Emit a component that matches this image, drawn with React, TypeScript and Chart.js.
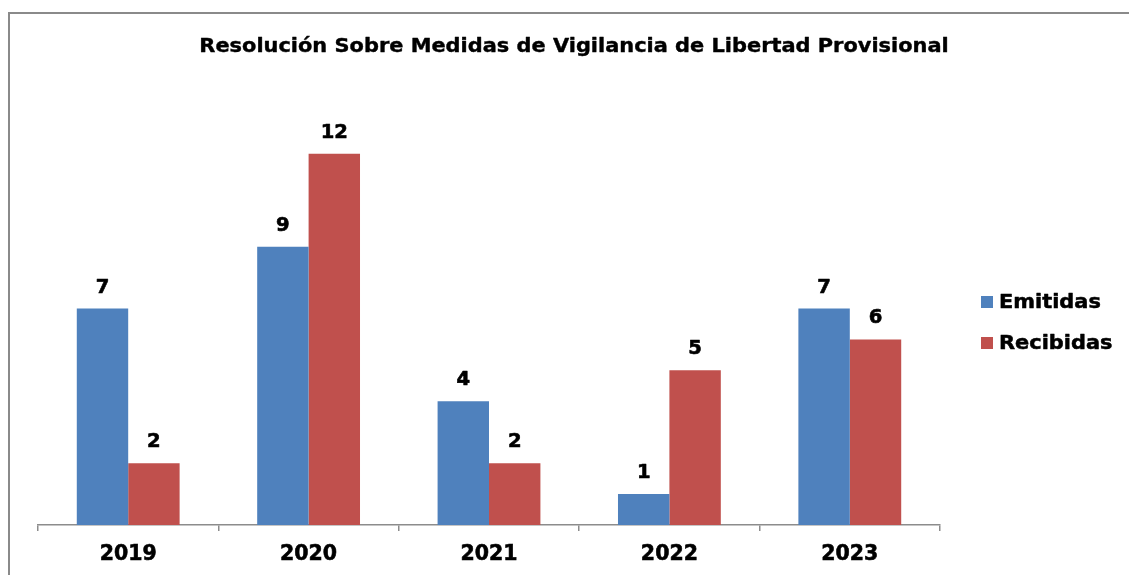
import React, { useEffect, useRef } from "react";
import { Chart, registerables } from "chart.js";

Chart.register(...registerables);

const categories = ["2019", "2020", "2021", "2022", "2023"];
const emitidas = [7, 9, 4, 1, 7];
const recibidas = [2, 12, 2, 5, 6];
const seriesNames = ["Emitidas", "Recibidas"];
const titleText = "Resolución Sobre Medidas de Vigilancia de Libertad Provisional";

const FONT = "'DejaVu Sans', Verdana, sans-serif";
const BLUE = "#4F81BD";
const RED = "#C0504D";

function stretchedText(ctx: any, text: string, x: number, y: number, sx: number, stroke = 0.5) {
  ctx.save();
  ctx.translate(x, y);
  ctx.scale(sx, 1);
  ctx.fillText(text, 0, 0);
  if (stroke > 0) {
    ctx.lineWidth = stroke;
    ctx.strokeStyle = ctx.fillStyle;
    ctx.lineJoin = "round";
    ctx.strokeText(text, 0, 0);
  }
  ctx.restore();
}

const frameAndLabels = {
  id: "frameAndLabels",
  beforeDraw(chart: any) {
    const ctx = chart.ctx;
    ctx.save();
    ctx.strokeStyle = "#8a8a8a";
    ctx.lineWidth = 2;
    ctx.beginPath();
    ctx.moveTo(9, chart.height + 5);
    ctx.lineTo(9, 13);
    ctx.lineTo(chart.width + 5, 13);
    ctx.stroke();
    // title
    ctx.fillStyle = "#000";
    ctx.font = `bold 19px ${FONT}`;
    ctx.textAlign = "center";
    ctx.textBaseline = "middle";
    stretchedText(ctx, titleText, 574, 47, 1.1, 0.4);
    ctx.restore();
  },
  afterDatasetsDraw(chart: any) {
    const ctx = chart.ctx;
    ctx.save();
    ctx.font = `bold 19px ${FONT}`;
    ctx.fillStyle = "#000";
    ctx.textAlign = "center";
    ctx.textBaseline = "alphabetic";
    chart.data.datasets.forEach((ds: any, i: number) => {
      const meta = chart.getDatasetMeta(i);
      meta.data.forEach((el: any, j: number) => {
        stretchedText(ctx, String(ds.data[j]), el.x, el.y - 16, 1.03, 0.6);
      });
    });
    // legend
    ctx.font = `bold 19px ${FONT}`;
    ctx.textAlign = "left";
    ctx.textBaseline = "middle";
    chart.data.datasets.forEach((ds: any, i: number) => {
      const y = 302 + i * 41;
      ctx.fillStyle = ds.backgroundColor;
      ctx.fillRect(981, y - 6, 12, 12);
      ctx.fillStyle = "#000";
      stretchedText(ctx, ds.label, 999, y + 1, 1.1, 0.5);
    });
    ctx.restore();
  },
};

export default function App() {
  const ref = useRef<HTMLCanvasElement>(null);
  useEffect(() => {
    if (!ref.current) return;
    const chart = new Chart(ref.current, {
      type: "bar",
      data: {
        labels: categories,
        datasets: [
          { label: seriesNames[0], data: emitidas, backgroundColor: BLUE },
          { label: seriesNames[1], data: recibidas, backgroundColor: RED },
        ],
      },
      options: {
        responsive: false,
        animation: false,
        layout: { padding: { left: 38, right: 189, top: 92, bottom: 0 } },
        datasets: {
          bar: { categoryPercentage: 0.57, barPercentage: 1.0 },
        },
        plugins: {
          legend: { display: false },
          tooltip: { enabled: false },
          title: { display: false },
        },
        scales: {
          x: {
            offset: true,
            afterFit(scale: any) {
              scale.height = 50;
            },
            grid: {
              offset: true,
              drawOnChartArea: false,
              drawTicks: true,
              tickLength: 6,
              color: "#8c8c8c",
              lineWidth: 1.5,
            },
            border: { display: true, color: "#8c8c8c", width: 1.5 },
            ticks: {
              color: "#000",
              padding: 11,
              textStrokeColor: "#000",
              textStrokeWidth: 0.6,
              font: { family: FONT, size: 20.5, weight: "bold", lineHeight: 1.2 },
            },
          },
          y: {
            display: false,
            min: 0,
            max: 14,
          },
        },
      },
      plugins: [frameAndLabels],
    });
    return () => chart.destroy();
  }, []);
  return (
    <div style={{ position: "fixed", left: 0, top: 0, width: 1129, height: 575, background: "#fff" }}>
      <canvas ref={ref} width={1129} height={575} />
    </div>
  );
}
